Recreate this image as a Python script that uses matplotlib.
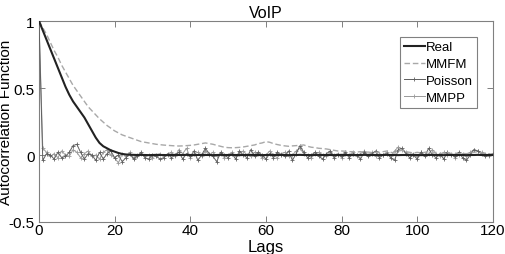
import numpy as np
import matplotlib
matplotlib.use('Agg')
import matplotlib.pyplot as plt

# --- data ---
lags = np.arange(0, 121)

real = [1.00, 0.93, 0.86, 0.79, 0.72, 0.65, 0.58, 0.51, 0.45, 0.40,
        0.36, 0.32, 0.28, 0.23, 0.18, 0.13, 0.09, 0.065, 0.05, 0.035,
        0.025, 0.015, 0.008, 0.004, 0.002, 0.001, 0.0, 0.001, 0.0, -0.001,
        0.0, 0.001, 0.0, 0.0, -0.001, 0.0, 0.001, 0.0, 0.0, 0.001,
        0.0, -0.001, 0.0, 0.001, 0.0, 0.0, -0.001, 0.0, 0.001, 0.0,
        0.0, 0.001, 0.0, -0.001, 0.0, 0.0, 0.001, 0.0, 0.0, -0.001,
        0.0, 0.001, 0.0, 0.0, 0.001, 0.0, -0.001, 0.0, 0.0, 0.001,
        0.0, 0.0, -0.001, 0.0, 0.001, 0.0, 0.0, 0.0, -0.001, 0.0,
        0.001, 0.0, 0.0, -0.001, 0.0, 0.0, 0.001, 0.0, 0.0, 0.0,
        -0.001, 0.0, 0.001, 0.0, 0.0, -0.001, 0.0, 0.0, 0.001, 0.0,
        0.0, -0.001, 0.0, 0.0, 0.001, 0.0, 0.0, -0.001, 0.0, 0.0,
        0.001, 0.0, 0.0, -0.001, 0.0, 0.0, 0.001, 0.0, 0.0, 0.0,
        0.0]

mmfm = [1.00, 0.95, 0.90, 0.84, 0.78, 0.73, 0.67, 0.62, 0.57, 0.52,
        0.48, 0.44, 0.40, 0.36, 0.33, 0.30, 0.27, 0.245, 0.22, 0.20,
        0.18, 0.165, 0.15, 0.14, 0.13, 0.12, 0.11, 0.10, 0.095, 0.09,
        0.085, 0.08, 0.077, 0.074, 0.072, 0.07, 0.068, 0.067, 0.068, 0.07,
        0.072, 0.075, 0.08, 0.085, 0.09, 0.085, 0.08, 0.072, 0.065, 0.058,
        0.055, 0.054, 0.055, 0.057, 0.06, 0.065, 0.07, 0.075, 0.085, 0.09,
        0.10, 0.095, 0.085, 0.078, 0.072, 0.068, 0.065, 0.068, 0.07, 0.072,
        0.075, 0.065, 0.058, 0.055, 0.05, 0.048, 0.045, 0.04, 0.035, 0.03,
        0.03, 0.028, 0.025, 0.025, 0.022, 0.025, 0.02, 0.022, 0.018, 0.02,
        0.02, 0.025, 0.03, 0.02, 0.015, 0.03, 0.035, 0.025, 0.02, 0.015,
        0.02, 0.015, 0.02, 0.025, 0.015, 0.02, 0.01, 0.015, 0.02, 0.01,
        0.015, 0.01, 0.012, 0.01, 0.015, 0.02, 0.025, 0.015, 0.01, 0.008,
        0.005]

poisson = [1.0,
           -0.04, 0.01, 0.00, -0.03, 0.02, -0.02, -0.01, 0.02, 0.07, 0.08,
           0.02, -0.03, 0.01, 0.00, -0.04, 0.02, -0.03, 0.01, 0.03, -0.02,
           0.00, -0.05, -0.02, 0.01, -0.03, -0.01, 0.02, -0.02, -0.03, 0.00,
           -0.01, -0.03, -0.02, 0.01, -0.02, 0.00, 0.02, -0.03, 0.01, -0.01,
           0.03, -0.04, 0.00, 0.05, 0.01, -0.01, -0.05, 0.02, 0.00, -0.02,
           0.01, -0.03, 0.03, 0.00, -0.02, 0.04, -0.01, 0.02, 0.00, -0.03,
           0.01, -0.02, 0.02, 0.00, -0.01, 0.03, -0.04, 0.01, 0.07, 0.02,
           -0.02, 0.00, 0.02, -0.01, -0.03, 0.01, 0.03, -0.02, 0.00, -0.01,
           0.02, -0.02, 0.01, 0.00, -0.03, 0.02, -0.01, 0.01, 0.03, -0.02,
           0.00, 0.01, -0.02, -0.04, 0.04, 0.05, 0.01, -0.02, 0.00, -0.03,
           0.02, -0.01, 0.05, 0.00, -0.02, 0.01, -0.03, 0.02, 0.00, -0.01,
           0.02, -0.02, -0.04, 0.00, 0.04, 0.03, 0.01, -0.01, 0.00, 0.01]

mmpp = [1.0,
        0.05, 0.02, -0.01, 0.01, -0.02, 0.03, 0.00, -0.01, 0.04, 0.02,
        -0.02, 0.01, 0.03, -0.01, 0.00, -0.03, 0.02, 0.04, 0.00, -0.02,
        -0.06, 0.01, -0.01, 0.02, -0.02, 0.00, 0.01, -0.01, 0.00, -0.02,
        0.00, 0.01, -0.01, 0.00, 0.02, -0.01, 0.04, 0.01, 0.05, -0.02,
        0.01, 0.02, -0.01, 0.03, 0.00, 0.02, -0.01, 0.01, -0.02, 0.00,
        0.02, -0.01, 0.01, 0.03, 0.00, -0.01, 0.02, 0.01, -0.02, 0.00,
        0.03, 0.00, -0.02, 0.01, 0.02, -0.01, 0.00, 0.03, 0.05, 0.01,
        0.00, -0.02, 0.01, 0.02, 0.00, -0.01, 0.02, 0.00, 0.01, -0.02,
        0.01, 0.00, 0.02, -0.01, 0.01, 0.03, 0.00, 0.02, -0.01, 0.01,
        0.00, 0.02, -0.01, 0.03, 0.06, 0.04, 0.02, 0.00, 0.01, -0.01,
        0.02, 0.00, 0.01, 0.04, 0.01, -0.01, 0.02, 0.00, 0.01, -0.02,
        0.00, 0.01, -0.01, 0.02, 0.04, 0.03, 0.02, 0.01, -0.01, 0.00]

# --- plotting ---
plt.rcParams['font.family'] = ['Liberation Sans', 'DejaVu Sans']
frame_col = '#808080'

fig = plt.figure(figsize=(5.05, 2.55), dpi=100)
ax = fig.add_axes([0.0772, 0.1255, 0.8988, 0.7882])

ax.plot(lags, mmpp, color='#9a9a9a', lw=0.7, marker='+', ms=3, mew=0.6, label='MMPP', zorder=2)
ax.plot(lags, poisson, color='#606060', lw=0.7, marker='+', ms=3, mew=0.6, label='Poisson', zorder=3)
ax.plot(lags, mmfm, color='#a8a8a8', lw=1.0, ls='--', dashes=(4, 2), label='MMFM', zorder=4)
ax.plot(lags, real, color='#222222', lw=1.5, label='Real', zorder=5)

ax.set_xlim(0, 120)
ax.set_ylim(-0.5, 1)
ax.set_xticks([0, 20, 40, 60, 80, 100, 120])
ax.set_yticks([-0.5, 0, 0.5, 1])
ax.set_yticklabels(['-0.5', '0', '0.5', '1'])
ax.tick_params(direction='in', top=True, right=True, length=4, width=0.7,
               color=frame_col, labelsize=11, pad=1)
ax.tick_params(axis='y', pad=3)
for s in ax.spines.values():
    s.set_color(frame_col)
    s.set_linewidth(0.8)

ax.set_title('VoIP', fontsize=11.5, pad=3)
ax.set_xlabel('Lags', fontsize=12, labelpad=1)
ax.set_ylabel('Autocorrelation Function', fontsize=11)
ax.yaxis.set_label_coords(-0.058, 0.5)

h, l = ax.get_legend_handles_labels()
order = [3, 2, 1, 0]
leg = ax.legend([h[i] for i in order], [l[i] for i in order], loc='upper right',
                bbox_to_anchor=(0.965, 0.92), borderaxespad=0, fontsize=9.5,
                handlelength=1.6, handletextpad=0.1, labelspacing=0.35,
                borderpad=0.3, fancybox=False, framealpha=1)
leg.get_frame().set_edgecolor(frame_col)
leg.get_frame().set_linewidth(0.8)

fig.savefig('out.png', dpi=100)
